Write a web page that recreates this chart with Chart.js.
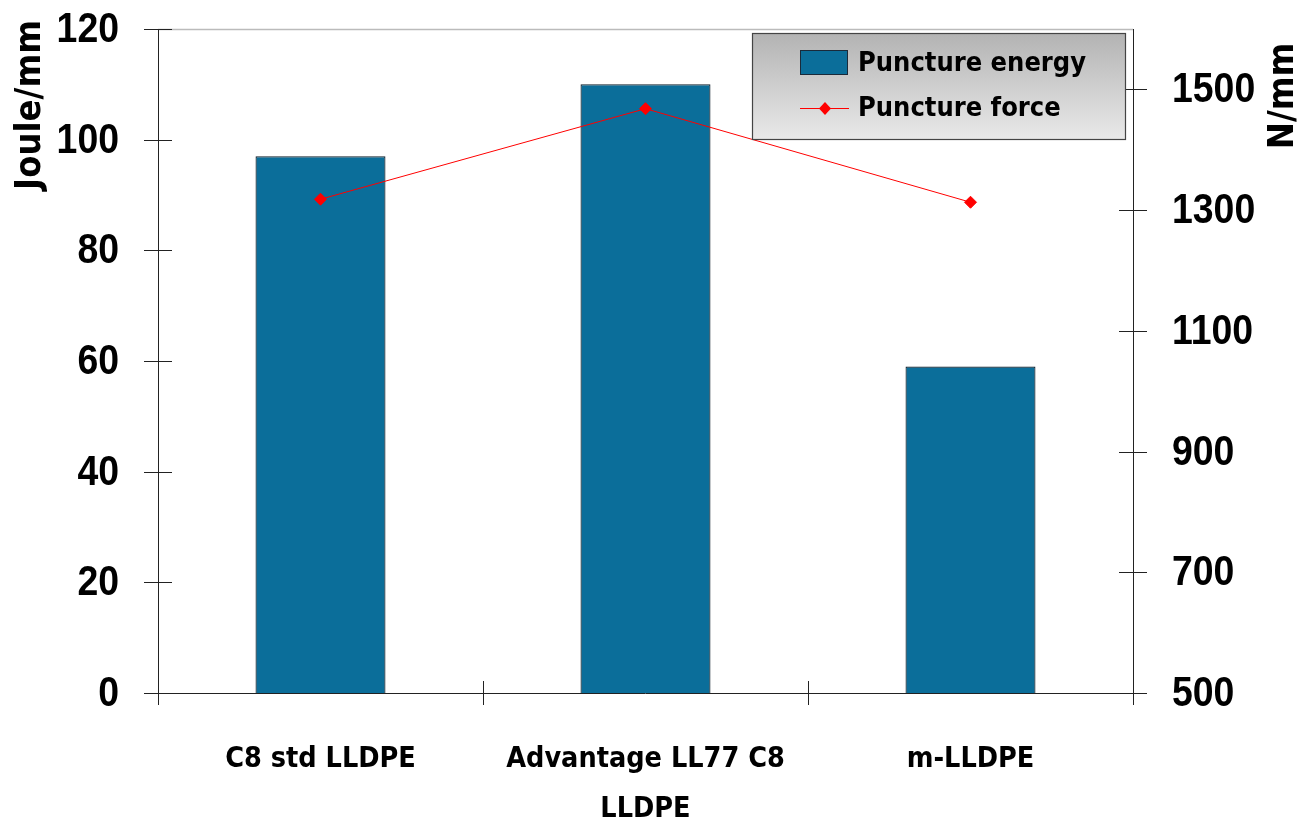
<!DOCTYPE html>
<html>
<head>
<meta charset="utf-8">
<script src="https://cdn.jsdelivr.net/npm/chart.js@4/dist/chart.umd.min.js"></script>
<style>
html,body{margin:0;padding:0;background:#fff;}
#wrap{width:1306px;height:827px;position:relative;}
</style>
</head>
<body>
<div id="wrap"><canvas id="c" width="1306" height="827"></canvas></div>
<script>
const categories = ["C8 std LLDPE", ["Advantage LL77 C8", "LLDPE"], "m-LLDPE"];
const punctureEnergy = [97, 110, 59];
const punctureForce = [1318, 1468, 1313];
const leftTicks = [0, 20, 40, 60, 80, 100, 120];
const rightTicks = [500, 700, 900, 1100, 1300, 1500];
const leftTitle = "Joule/mm";
const rightTitle = "N/mm";

const comic = '"Comic Sans MS", "DejaVu Sans Condensed", "DejaVu Sans", sans-serif';
const sans = '"Liberation Sans", Arial, sans-serif';

const decor = {
  id: 'decor',
  afterDatasetsDraw(chart) {
    const ctx = chart.ctx;
    const ca = chart.chartArea;
    const y = chart.scales.y, y2 = chart.scales.y2, x = chart.scales.x;
    ctx.save();
    // top border
    ctx.strokeStyle = '#bbbbbb';
    ctx.lineWidth = 1.5;
    ctx.beginPath(); ctx.moveTo(ca.left, ca.top + 0.5); ctx.lineTo(ca.right, ca.top + 0.5); ctx.stroke();
    ctx.strokeStyle = '#222';
    ctx.lineWidth = 1;
    ctx.beginPath(); ctx.moveTo(ca.left + 0.5, ca.top); ctx.lineTo(ca.left + 0.5, ca.bottom + 12); ctx.stroke();
    ctx.beginPath(); ctx.moveTo(ca.right + 0.5, ca.top); ctx.lineTo(ca.right + 0.5, ca.bottom + 12); ctx.stroke();
    ctx.beginPath(); ctx.moveTo(ca.left - 14, ca.bottom + 0.5); ctx.lineTo(ca.right + 14, ca.bottom + 0.5); ctx.stroke();
    // y tick marks and labels (condensed)
    ctx.fillStyle = '#000';
    ctx.font = 'bold 43px ' + sans;
    ctx.textBaseline = 'middle';
    y.ticks.forEach(t => {
      const py = Math.round(y.getPixelForValue(t.value)) + 0.5;
      ctx.beginPath(); ctx.moveTo(ca.left - 14, py); ctx.lineTo(ca.left + 14, py); ctx.stroke();
      ctx.save(); ctx.translate(ca.left - 39, py + 1); ctx.scale(0.87, 1);
      ctx.textAlign = 'right'; ctx.fillText(String(t.value), 0, 0); ctx.restore();
    });
    y2.ticks.forEach(t => {
      const py = Math.round(y2.getPixelForValue(t.value)) + 0.5;
      ctx.beginPath(); ctx.moveTo(ca.right - 14, py); ctx.lineTo(ca.right + 14, py); ctx.stroke();
      ctx.save(); ctx.translate(ca.right + 39, py + 1); ctx.scale(0.87, 1);
      ctx.textAlign = 'left'; ctx.fillText(String(t.value), 0, 0); ctx.restore();
    });
    // category boundaries
    const n = categories.length;
    const w = (x.getPixelForValue(1) - x.getPixelForValue(0));
    for (let i = 0; i <= n; i++) {
      const px = Math.round(x.getPixelForValue(0) - w / 2 + i * w) + 0.5;
      ctx.beginPath(); ctx.moveTo(px, ca.bottom - 12); ctx.lineTo(px, ca.bottom + 12); ctx.stroke();
    }
    // axis titles
    ctx.fillStyle = '#000';
    ctx.font = 'bold 36px ' + comic;
    ctx.textAlign = 'center';
    ctx.textBaseline = 'middle';
    ctx.save(); ctx.translate(31, 105); ctx.rotate(-Math.PI / 2); ctx.fillText(leftTitle, 0, 0); ctx.restore();
    ctx.save(); ctx.translate(1284, 96); ctx.rotate(-Math.PI / 2); ctx.fillText(rightTitle, 0, 0); ctx.restore();

    // legend
    const lx = 752, ly = 33, lw = 373, lh = 106;
    const g = ctx.createLinearGradient(0, ly, 0, ly + lh);
    g.addColorStop(0, '#b3b3b3');
    g.addColorStop(1, '#e9e9e9');
    ctx.fillStyle = g;
    ctx.fillRect(lx, ly, lw, lh);
    ctx.strokeStyle = '#444';
    ctx.lineWidth = 1.2;
    ctx.strokeRect(lx + 0.5, ly + 0.5, lw, lh);
    const bar = chart.data.datasets.find(d => d.type === 'bar');
    const line = chart.data.datasets.find(d => d.type === 'line');
    ctx.fillStyle = bar.backgroundColor;
    ctx.fillRect(800, 50, 47, 24);
    ctx.strokeStyle = '#1a2a3a'; ctx.lineWidth = 1;
    ctx.strokeRect(800.5, 50.5, 47, 24);
    ctx.strokeStyle = line.borderColor; ctx.lineWidth = 1;
    ctx.beginPath(); ctx.moveTo(800, 108.5); ctx.lineTo(849, 108.5); ctx.stroke();
    ctx.fillStyle = line.borderColor;
    ctx.beginPath(); ctx.moveTo(825, 102); ctx.lineTo(831, 108.5); ctx.lineTo(825, 115); ctx.lineTo(819, 108.5); ctx.closePath(); ctx.fill();
    ctx.fillStyle = '#000';
    ctx.font = 'bold 27px ' + comic;
    ctx.textAlign = 'left';
    ctx.fillText(bar.label, 858, 64);
    ctx.fillText(line.label, 858, 109);
    ctx.restore();
  }
};

new Chart(document.getElementById('c'), {
  data: {
    labels: categories,
    datasets: [
      {
        type: 'line',
        label: 'Puncture force',
        data: punctureForce,
        yAxisID: 'y2',
        borderColor: '#ff0000',
        backgroundColor: '#ff0000',
        borderWidth: 1,
        pointStyle: 'rectRot',
        pointRadius: 6,
        pointHoverRadius: 6,
        order: 0
      },
      {
        type: 'bar',
        label: 'Puncture energy',
        data: punctureEnergy,
        yAxisID: 'y',
        backgroundColor: '#0b6e9a',
        borderColor: '#10202c',
        borderWidth: 1.2,
        categoryPercentage: 1,
        barPercentage: 0.4,
        order: 1
      }
    ]
  },
  options: {
    responsive: false,
    animation: false,
    devicePixelRatio: 1,
    layout: { padding: { top: 29, left: 0, right: 0, bottom: 0 } },
    plugins: { legend: { display: false }, tooltip: { enabled: false } },
    scales: {
      x: {
        type: 'category',
        offset: true,
        grid: { display: false, drawTicks: false },
        border: { display: false },
        ticks: {
          color: '#000',
          font: { family: comic, size: 28.5, weight: 'bold', lineHeight: 1.75 },
          padding: 42,
          maxRotation: 0,
          autoSkip: false
        },
        afterFit(s) { s.height = 134; s.paddingLeft = 0; s.paddingRight = 0; }
      },
      y: {
        position: 'left',
        min: 0, max: 120,
        grid: { display: false, drawTicks: false },
        border: { display: false },
        afterBuildTicks(s) { s.ticks = leftTicks.map(v => ({ value: v })); },
        ticks: { display: false },
        afterFit(s) { s.width = 158; s.paddingTop = 0; s.paddingBottom = 0; }
      },
      y2: {
        position: 'right',
        min: 500, max: 1600,
        grid: { display: false, drawTicks: false },
        border: { display: false },
        afterBuildTicks(s) { s.ticks = rightTicks.map(v => ({ value: v })); },
        ticks: { display: false },
        afterFit(s) { s.width = 173; s.paddingTop = 0; s.paddingBottom = 0; }
      }
    }
  },
  plugins: [decor]
});
</script>
</body>
</html>
